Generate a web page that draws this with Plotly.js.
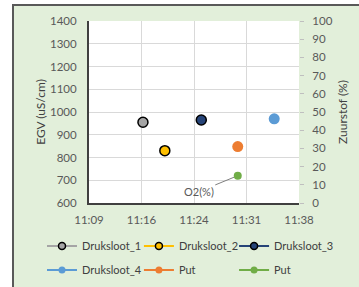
<!DOCTYPE html>
<html>
<head>
<meta charset="utf-8">
<script src="https://cdn.plot.ly/plotly-3.0.1.min.js"></script>
<style>
html,body{margin:0;padding:0;background:#ffffff;overflow:hidden;}
#frame{position:absolute;left:12px;top:4px;width:400px;height:320px;background:#e2efda;border:2px solid #595959;box-sizing:border-box;}
#chart{position:absolute;left:0;top:0;width:359px;height:287px;}
</style>
</head>
<body>
<div id="frame"></div>
<div id="chart"></div>
<script>
// Time axis in minutes since midnight
const tickVals = [669.6, 676.8, 684.0, 691.2, 698.4];
const tickText = ["11:09", "11:16", "11:24", "11:31", "11:38"];

const seriesNames = ["Druksloot_1", "Druksloot_2", "Druksloot_3", "Druksloot_4", "Put", "Put"];
const seriesTimes = [677, 680, 685, 695, 690, 690];   // minutes (11:17, 11:20, 11:25, 11:35, 11:30, 11:30)
const seriesValues = [955, 830, 965, 970, 848, 15];   // EGV (uS/cm), last = O2 (%)
const seriesAxis = ["y", "y", "y", "y", "y", "y2"];
const lineColors = ["#a5a5a5", "#ffc000", "#264478", "#5b9bd5", "#ed7d31", "#70ad47"];
const markerFill = ["#a5a5a5", "#ffc000", "#264478", "#5b9bd5", "#ed7d31", "#70ad47"];
const markerLine = ["#000000", "#000000", "#000000", "#5b9bd5", "#ed7d31", "#70ad47"];
const markerLineW = [1.5, 1.5, 1.5, 0, 0, 0];
const markerSize = [10, 10, 10, 11, 11, 8];

const dataTraces = seriesNames.map((n, i) => ({
  type: "scatter",
  mode: "markers",
  name: n,
  x: [seriesTimes[i]],
  y: [seriesValues[i]],
  yaxis: seriesAxis[i],
  showlegend: false,
  marker: {color: markerFill[i], size: markerSize[i], line: {color: markerLine[i], width: markerLineW[i]}},
  hoverinfo: "x+y"
}));

// one legend per entry, laid out as a 3 x 2 grid like the reference
const legendIds = ["legend", "legend2", "legend3", "legend4", "legend5", "legend6"];
const legendTraces = seriesNames.map((n, i) => ({
  type: "scatter",
  mode: "lines+markers",
  name: n,
  x: [null],
  y: [null],
  yaxis: seriesAxis[i],
  legend: legendIds[i],
  showlegend: true,
  line: {color: lineColors[i], width: 2},
  marker: {color: markerFill[i], size: 7, line: {color: markerLine[i], width: markerLineW[i] ? 1.5 : 0}}
}));

const font = {family: "Lato, 'Open Sans', sans-serif", size: 11, color: "#595959"};

const colX = [0.117, 0.387, 0.652];
const rowY = [0.1429, 0.0592];
function legendAt(i) {
  return {
    orientation: "h",
    xref: "container", yref: "container",
    xanchor: "left", yanchor: "middle",
    x: colX[i % 3], y: rowY[Math.floor(i / 3)],
    bgcolor: "rgba(0,0,0,0)",
    font: {family: font.family, size: 11, color: "#404040"},
    itemclick: false
  };
}

const layout = {
  width: 359, height: 287,
  margin: {l: 89, r: 60, t: 21, b: 84},
  paper_bgcolor: "rgba(0,0,0,0)",
  plot_bgcolor: "#ffffff",
  font: font,
  showlegend: true,
  xaxis: {
    range: [669.6, 698.4],
    tickvals: tickVals, ticktext: tickText,
    showgrid: true, gridcolor: "#d9d9d9", gridwidth: 1,
    showline: true, linecolor: "#404040", linewidth: 2,
    ticks: "", ticklabelstandoff: 5,
    zeroline: false,
    tickfont: {size: 11.5, color: "#595959"}
  },
  yaxis: {
    range: [600, 1400], dtick: 100,
    showgrid: true, gridcolor: "#d9d9d9", gridwidth: 1,
    showline: true, linecolor: "#404040", linewidth: 2,
    ticks: "", ticklabelstandoff: 8,
    zeroline: false,
    title: {text: "EGV (uS/cm)", font: {size: 12, color: "#404040"}, standoff: 2},
    tickfont: {size: 11.5, color: "#595959"}
  },
  yaxis2: {
    overlaying: "y", side: "right",
    range: [0, 100], dtick: 10,
    showgrid: false, zeroline: false,
    showline: false,
    ticks: "outside", ticklen: 4, tickcolor: "#bfbfbf", ticklabelstandoff: 6,
    title: {text: "Zuurstof (%)", font: {size: 12, color: "#404040"}, standoff: 6},
    tickfont: {size: 11.5, color: "#595959"}
  },
  annotations: [{
    x: 690, y: 15, xref: "x", yref: "y2",
    text: "O2(%)", showarrow: true, arrowhead: 0, arrowwidth: 1, arrowcolor: "#7f7f7f",
    ax: -39, ay: 16, standoff: 4,
    font: {size: 11, color: "#595959"}
  }]
};
legendIds.forEach((id, i) => { layout[id] = legendAt(i); });

Plotly.newPlot("chart", dataTraces.concat(legendTraces), layout, {displayModeBar: false, staticPlot: true});
</script>
</body>
</html>
